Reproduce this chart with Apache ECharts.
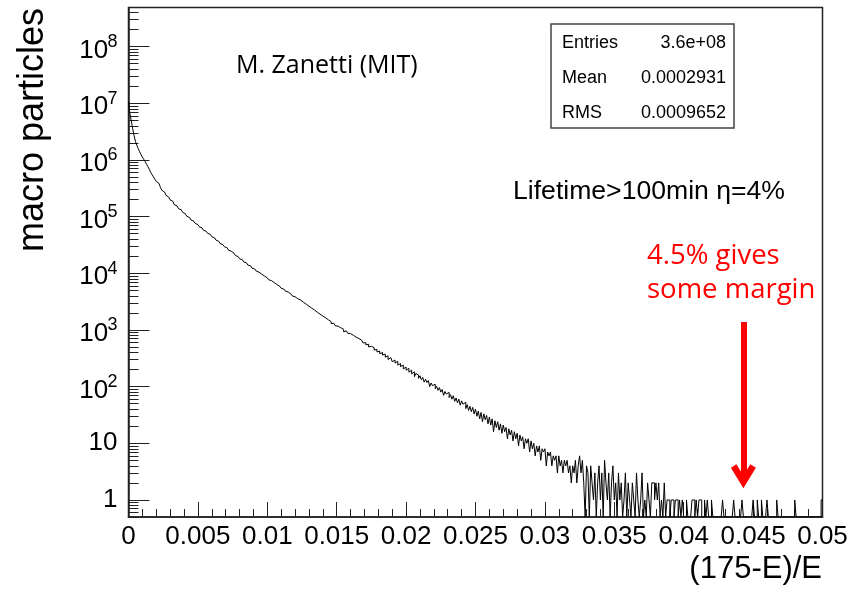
<!DOCTYPE html>
<html>
<head>
<meta charset="utf-8">
<script src="https://cdn.jsdelivr.net/npm/echarts@6/dist/echarts.min.js"></script>
<style>
  html, body { margin: 0; padding: 0; background: #fff; }
  #chart { width: 865px; height: 591px; }
</style>
</head>
<body>
<div id="chart"></div>
<script>
// Histogram of (175-E)/E for tracked macro particles, 500 equal bins over X_RANGE
const X_RANGE = [0, 0.05];
const Y_RANGE = [0.5, 4.9e8];
const COUNTS = [
  10700000, 6610000, 4900000, 3550000, 2690000, 2140000, 1820000, 1585000, 1396000, 1245000,
  1122000, 1023000, 933000, 841000, 759000, 684000, 603000, 550000, 501000, 457000,
  417000, 385000, 355000, 327000, 292000, 272000, 254000, 237000, 221000, 209000,
  197000, 186000, 176000, 162000, 155000, 146000, 138000, 132000, 124500, 118900,
  112200, 107200, 101200, 96600, 92300, 87100, 83200, 79400, 75900, 72400,
  69200, 66100, 63100, 60300, 57500, 55000, 52500, 50700, 48400, 46200,
  44200, 42200, 40300, 38500, 36700, 35100, 33500, 32000, 30600, 29500,
  28200, 26900, 25700, 24500, 23400, 22650, 21600, 20650, 19700, 18800,
  18000, 17380, 16600, 15850, 15310, 14620, 13960, 13490, 12880, 12300,
  11890, 11350, 10960, 10470, 10120, 9660, 9330, 8910, 8610, 8320,
  7940, 7670, 7410, 7080, 6840, 6610, 6310, 6100, 5890, 5620,
  5430, 5250, 5010, 4840, 4680, 4470, 4320, 4170, 3980, 3850,
  3720, 3550, 3430, 3370, 3120, 3090, 2870, 2850, 2660, 2630,
  2470, 2430, 2280, 2250, 2110, 2060, 1930, 1900, 1790, 1760,
  1650, 1640, 1530, 1510, 1420, 1400, 1290, 1310, 1230, 1180,
  1170, 1100, 1090, 1020, 1030, 930, 960, 905, 870, 860,
  800, 805, 760, 745, 700, 705, 650, 660, 615, 590,
  595, 545, 560, 500, 515, 480, 485, 440, 455, 410,
  425, 380, 400, 360, 375, 330, 350, 300, 325, 310,
  275, 295, 260, 280, 240, 255, 225, 240, 205, 222,
  195, 210, 180, 195, 168, 182, 150, 170, 160, 140,
  155, 132, 145, 120, 135, 118, 128, 100, 116, 104,
  110, 92, 101, 86, 96, 80, 89, 70, 82, 74,
  79, 64, 72, 60, 69, 55, 63, 52, 60, 47,
  56, 49, 53, 41, 48, 38, 45, 36, 43, 33,
  40, 30, 37, 27, 35, 24, 33, 26, 31, 22,
  29, 21, 27, 16, 25, 19, 24, 17, 22, 15,
  21, 16, 19, 12, 18, 14, 17, 11, 16, 12,
  15, 9, 14, 11, 13, 8, 12, 10, 12, 7,
  11, 8, 10, 6, 9, 7, 9, 5, 8, 7,
  8, 4, 7, 6, 7, 4, 6, 5, 6, 3,
  6, 4, 5, 3, 5, 4, 5, 3, 4, 2,
  4, 3, 5, 2, 4, 6, 3, 5, 2, 0,
  4, 3, 0, 4, 2, 1, 3, 0, 2, 4,
  1, 3, 0, 5, 2, 1, 3, 0, 2, 4,
  1, 2, 0, 3, 1, 2, 0, 1, 3, 0,
  2, 1, 0, 2, 1, 0, 3, 1, 0, 1,
  3, 0, 1, 0, 2, 1, 0, 2, 2, 1,
  2, 1, 2, 0, 1, 0, 2, 0, 1, 1,
  0, 1, 1, 0, 1, 1, 0, 1, 0, 1,
  0, 0, 1, 0, 0, 0, 1, 1, 0, 1,
  0, 1, 1, 0, 0, 1, 0, 1, 0, 0,
  1, 0, 0, 0, 0, 0, 0, 0, 1, 0,
  0, 0, 0, 0, 0, 0, 1, 0, 0, 0,
  0, 0, 1, 0, 0, 0, 0, 0, 0, 0,
  1, 0, 0, 1, 0, 0, 1, 0, 0, 0,
  1, 0, 0, 0, 0, 0, 0, 1, 0, 0,
  0, 0, 0, 0, 0, 0, 0, 0, 0, 0,
  1, 0, 0, 0, 0, 0, 0, 0, 0, 0,
  0, 0, 0, 0, 0, 0, 0, 0, 0, 1
];
// Decade exponents that carry a labelled major tick on the count axis
const Y_DECADES = [0, 1, 2, 3, 4, 5, 6, 7, 8];
const STAT_NAMES = ['Entries', 'Mean', 'RMS'];
const STAT_VALUES = ['3.6e+08', '0.0002931', '0.0009652'];
// Annotation arrow: x position and the counts its shaft runs between
const ARROW_X = 0.0443;
const ARROW_COUNTS = [1380, 2.62];

const lg = Math.log10;
const yMin = lg(Y_RANGE[0]);
const yMax = lg(Y_RANGE[1]);
const binW = (X_RANGE[1] - X_RANGE[0]) / COUNTS.length;

// Step outline on the left bin edges; empty bins sit on the bottom of the frame
const histPoints = COUNTS.map((c, i) => [X_RANGE[0] + i * binW, c > 0 ? lg(c) : yMin]);
histPoints.push([X_RANGE[1], histPoints[histPoints.length - 1][1]]);

// Log-spaced minor ticks (2..9 in every decade)
const minorTicks = [];
for (let d = Math.floor(yMin); d <= Math.ceil(yMax); d++) {
  for (let k = 2; k <= 9; k++) {
    const v = d + lg(k);
    if (v > yMin && v < yMax) minorTicks.push(v);
  }
}

// "10^n" labels: the base sits slightly below its tick, the exponent slightly above
const BASE_DROP = 0.07;
const EXP_RISE = 0.08;
const powerDecades = Y_DECADES.filter(d => d >= 2);
const baseLabelValues = Y_DECADES.map(d => (d >= 2 ? d - BASE_DROP : d));
const expLabelValues = powerDecades.map(d => d + EXP_RISE);

const SANS = '"Liberation Sans", Arial, sans-serif';
const HUMANIST = '"Open Sans", "Liberation Sans", sans-serif';
const AXIS_COLOR = '#222';
const CHEVRON = 'path://M12.5,0 L25,20 L19.5,23.5 L12.5,12.5 L5.5,23.5 L0,20 Z';

const chart = echarts.init(document.getElementById('chart'), null, { renderer: 'canvas' });

const statsGroup = {
  type: 'group',
  z: 100,
  children: [
    { type: 'rect', shape: { x: 551, y: 24, width: 183, height: 104 },
      style: { fill: '#fff', stroke: '#444', lineWidth: 1.5 } }
  ].concat(STAT_NAMES.map((name, i) => ({
    type: 'text', x: 562, y: 43.5 + i * 35,
    style: { text: name, fill: '#000', fontSize: 18, fontFamily: SANS, align: 'left', verticalAlign: 'middle' }
  }))).concat(STAT_VALUES.map((val, i) => ({
    type: 'text', x: 726, y: 43.5 + i * 35,
    style: { text: val, fill: '#000', fontSize: 18, fontFamily: SANS, align: 'right', verticalAlign: 'middle' }
  })))
};

chart.setOption({
  animation: false,
  backgroundColor: '#fff',
  grid: {
    left: 128.5, top: 7.5, width: 694, height: 509.5,
    show: true, borderColor: AXIS_COLOR, borderWidth: 1.5, backgroundColor: 'transparent',
    containLabel: false, outerBoundsMode: 'none'
  },
  xAxis: {
    type: 'value', min: X_RANGE[0], max: X_RANGE[1], interval: 0.005,
    axisLine: { show: true, onZero: false, lineStyle: { color: AXIS_COLOR, width: 1.5 } },
    axisTick: { show: true, inside: true, length: 15, lineStyle: { color: AXIS_COLOR, width: 1 } },
    minorTick: { show: true, splitNumber: 5, length: 8, lineStyle: { color: AXIS_COLOR, width: 1 } },
    splitLine: { show: false },
    minorSplitLine: { show: false },
    axisLabel: {
      color: '#000', fontSize: 26, fontFamily: SANS, margin: 7,
      formatter: v => String(+v.toFixed(4))
    }
  },
  yAxis: [
    {
      // major decade ticks with "1", "10" and the base of every "10^n"
      type: 'value', min: yMin, max: yMax, position: 'left',
      axisLine: { show: true, onZero: false, lineStyle: { color: AXIS_COLOR, width: 1.5 } },
      axisTick: { show: true, inside: true, length: 21, customValues: Y_DECADES,
        lineStyle: { color: AXIS_COLOR, width: 1 } },
      splitLine: { show: false },
      axisLabel: {
        customValues: baseLabelValues,
        color: '#000', fontSize: 26, fontFamily: SANS, margin: 11,
        formatter: v => {
          const n = Math.round(v);
          if (n === 0) return '1';
          if (n === 1) return '10';
          return '10 \u200A';
        }
      }
    },
    {
      // log-spaced minor ticks
      type: 'value', min: yMin, max: yMax, position: 'left',
      axisLine: { show: false, onZero: false },
      axisTick: { show: true, inside: true, length: 10, customValues: minorTicks,
        lineStyle: { color: AXIS_COLOR, width: 1 } },
      axisLabel: { show: false },
      splitLine: { show: false }
    },
    {
      // exponents of the "10^n" labels
      type: 'value', min: yMin, max: yMax, position: 'left',
      axisLine: { show: false, onZero: false },
      axisTick: { show: false },
      splitLine: { show: false },
      axisLabel: {
        customValues: expLabelValues,
        color: '#000', fontSize: 18, fontFamily: SANS, margin: 11,
        formatter: v => String(Math.round(v))
      }
    }
  ],
  series: [{
    type: 'line',
    yAxisIndex: 0,
    data: histPoints,
    step: 'end',
    showSymbol: false,
    symbol: 'none',
    clip: true,
    silent: true,
    lineStyle: { color: '#000', width: 1 },
    markLine: {
      silent: true,
      animation: false,
      symbol: ['none', CHEVRON],
      symbolSize: [25, 24],
      label: { show: false },
      emphasis: { disabled: true },
      lineStyle: { color: '#ff0000', width: 6, type: 'solid' },
      data: [[
        { coord: [ARROW_X, lg(ARROW_COUNTS[0])] },
        { coord: [ARROW_X, lg(ARROW_COUNTS[1])] }
      ]]
    }
  }],
  graphic: [
    { type: 'text', x: 33, y: 130, rotation: Math.PI / 2, z: 100,
      style: { text: 'macro particles', fill: '#000', fontSize: 36, fontFamily: SANS, align: 'center', verticalAlign: 'middle' } },
    { type: 'text', x: 822, y: 569, z: 100,
      style: { text: '(175-E)/E', fill: '#000', fontSize: 31, fontFamily: SANS, align: 'right', verticalAlign: 'middle' } },
    { type: 'text', x: 236, y: 66, z: 100,
      style: { text: 'M. Zanetti (MIT)', fill: '#000', fontSize: 25, fontFamily: HUMANIST, align: 'left', verticalAlign: 'middle' } },
    { type: 'text', x: 513, y: 192, z: 100,
      style: { text: 'Lifetime>100min η=4%', fill: '#000', fontSize: 26.6, fontFamily: SANS, align: 'left', verticalAlign: 'middle' } },
    { type: 'text', x: 647, y: 256.5, z: 100,
      style: { text: '4.5% gives', fill: '#ff0000', fontSize: 27.5, fontFamily: HUMANIST, align: 'left', verticalAlign: 'middle' } },
    { type: 'text', x: 647, y: 290, z: 100,
      style: { text: 'some margin', fill: '#ff0000', fontSize: 27.5, fontFamily: HUMANIST, align: 'left', verticalAlign: 'middle' } },
    statsGroup
  ]
});
</script>
</body>
</html>
